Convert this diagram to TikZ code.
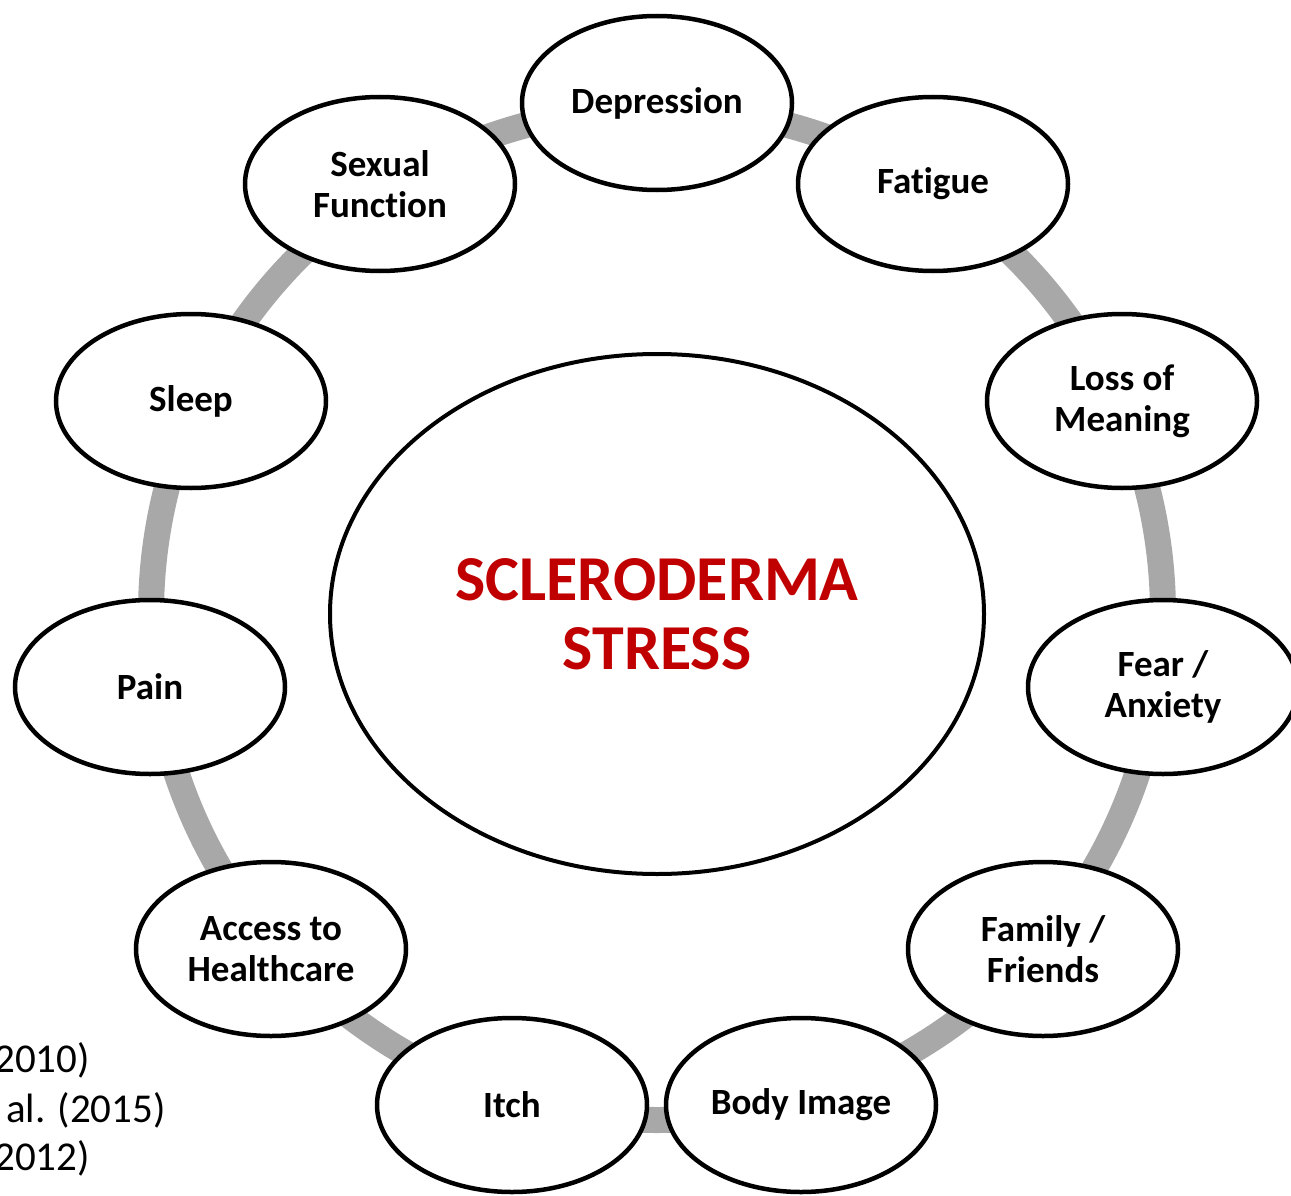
\documentclass[tikz,border=0pt]{standalone}
\usepackage{fontspec}
\setmainfont[Ligatures=NoCommon]{Carlito}
\usetikzlibrary{shapes.geometric}
\definecolor{sred}{RGB}{192,0,0}
\definecolor{ringgray}{RGB}{168,168,168}
\begin{document}
\begin{tikzpicture}[x=1pt,y=-1pt,
  bub/.style={ellipse,draw=black,line width=4.5pt,fill=white,minimum width=270pt,minimum height=174pt,inner sep=0pt,font=\bfseries\fontsize{37}{41}\selectfont,align=center},
  hub/.style={ellipse,draw=black,line width=4pt,fill=white,minimum width=654pt,minimum height=520pt,inner sep=0pt,font=\bfseries\fontsize{64}{69}\selectfont,text=sred,align=center},
  refnote/.style={anchor=base east,font=\fontsize{41}{50}\selectfont,inner sep=0pt}]
\useasboundingbox (0,0) rectangle (1291,1196);
\clip (0,0) rectangle (1291,1196);
\fill[white] (0,0) rectangle (1291,1196);
\coordinate (o) at (657,614);
\draw[ringgray, line width=26pt] (o) circle (506pt);
\node[hub] (core) at (o) {SCLERODERMA\\STRESS};
\node[bub] (dep) at (657,103) {Depression};
\node[bub] (fat) at (933,184) {Fatigue};
\node[bub] (sex) at (380,184) {Sexual\\Function};
\node[bub] (sleep) at (191,401) {Sleep};
\node[bub] (loss) at (1122,401) {Loss of\\Meaning};
\node[bub] (pain) at (150,687) {Pain};
\node[bub] (fear) at (1163,687) {Fear /\\Anxiety};
\node[bub] (acc) at (271,949) {Access to\\Healthcare};
\node[bub] (fam) at (1043,949) {Family /\\Friends};
\node[bub] (itch) at (512,1105) {Itch};
\node[bub] (body) at (801,1105) {Body Image};
\node[refnote] (r1) at (90,1072) {2010)};
\node[refnote] (r2) at (166,1122) {al. (2015)};
\node[refnote] (r3) at (90,1170) {2012)};
\end{tikzpicture}
\end{document}
